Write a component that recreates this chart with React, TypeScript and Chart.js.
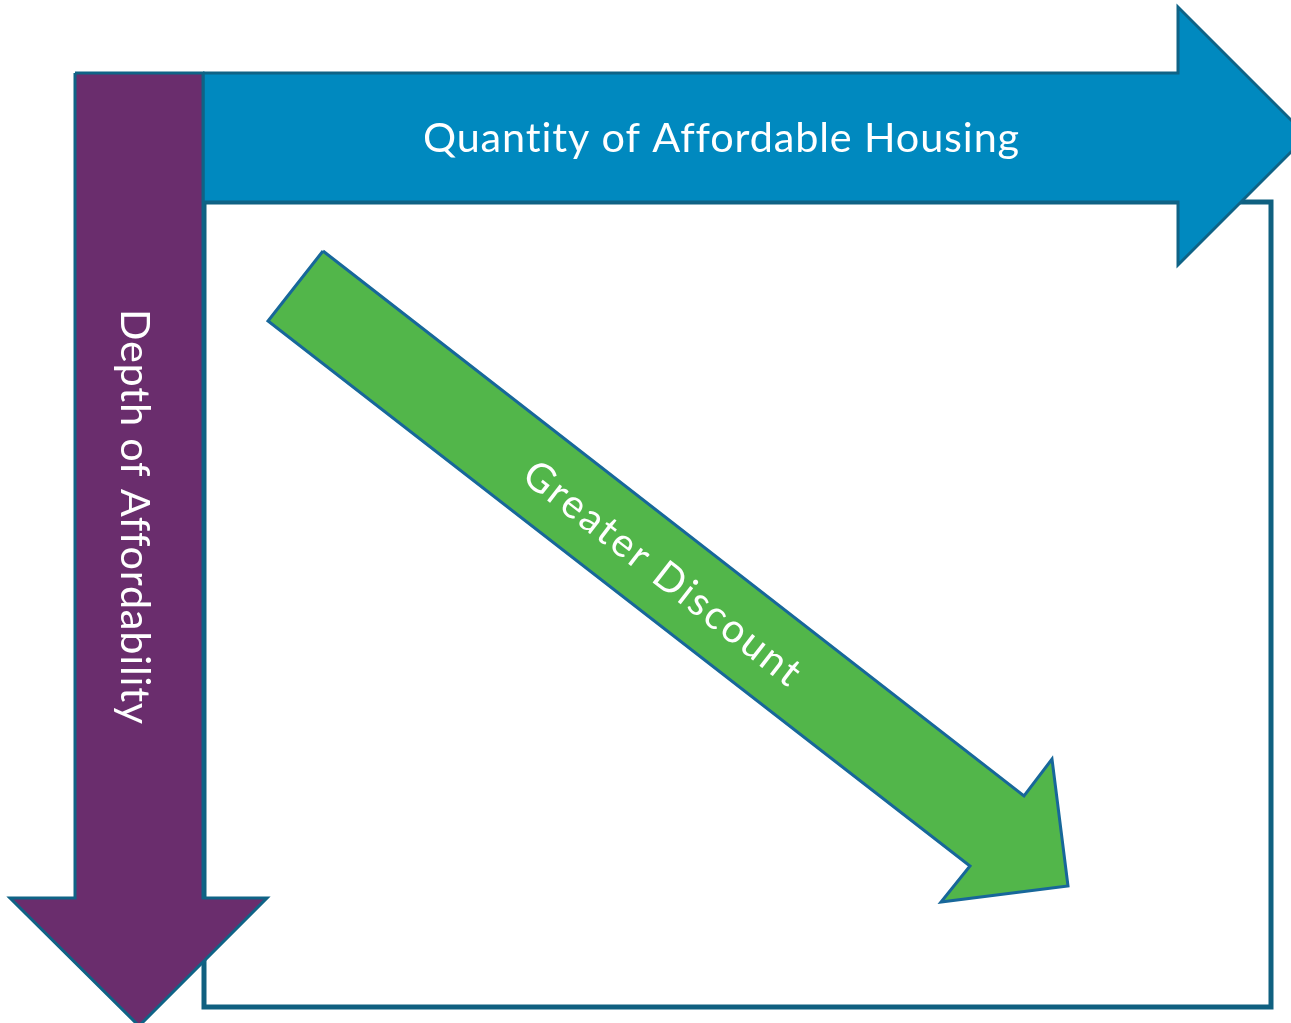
import React, { useEffect, useRef } from "react";
import { Chart, registerables } from "chart.js";

Chart.register(...registerables);

// Canvas / coordinate frame (data units = pixels of the reference)
const FRAME_W = 1291;
const FRAME_H = 1023;

// Shape outlines (data coordinates)
const boxX = [204, 1271, 1271, 204, 204];
const boxY = [202, 202, 1007, 1007, 202];

const blueArrowX = [203, 1178, 1178, 1307, 1178, 1178, 203, 203];
const blueArrowY = [73, 73, 7, 136, 265, 202, 202, 73];

const purpleArrowX = [75, 203, 203, 267, 139, 10, 75, 75];
const purpleArrowY = [73, 73, 898, 898, 1026, 898, 898, 73];

const greenArrowX = [323, 1024, 1052, 1068, 941, 970, 268, 323];
const greenArrowY = [251, 796, 759, 886, 902, 866, 321, 251];

// Labels
const labelTexts = ["Quantity of Affordable Housing", "Depth of Affordability", "Greater Discount"];
const labelCenterX = [721.5, 136, 664];
const labelCenterY = [137, 517, 573];
const labelAngles = [0, 90, 37.86];
const labelWidths = [597, 416, 342];
const labelCapHeights = [30, 30, 29];

const toPoints = (xs: number[], ys: number[]) => xs.map((x, i) => ({ x, y: ys[i] }));

const FONT_FAMILY = "Lato, 'Open Sans', sans-serif";

const labelPlugin = {
  id: "diagramLabels",
  afterDatasetsDraw(chart: any) {
    const ctx = chart.ctx as any;
    const xs = chart.scales.x;
    const ys = chart.scales.y;
    labelTexts.forEach((text, i) => {
      ctx.save();
      try {
        ctx.textRendering = "optimizeSpeed";
      } catch (e) {}
      const base = 40;
      ctx.font = `${base}px ${FONT_FAMILY}`;
      const capBase = ctx.measureText("H").actualBoundingBoxAscent || base * 0.72;
      const size = (base * labelCapHeights[i]) / capBase;
      ctx.font = `${size}px ${FONT_FAMILY}`;
      ctx.letterSpacing = "0px";
      const w = ctx.measureText(text).width;
      const spacing = (labelWidths[i] - w) / text.length;
      ctx.letterSpacing = `${Math.abs(spacing) < 0.02 ? 0.02 : spacing}px`;
      const px = xs.getPixelForValue(labelCenterX[i]);
      const py = ys.getPixelForValue(labelCenterY[i]);
      ctx.translate(px, py);
      ctx.rotate((labelAngles[i] * Math.PI) / 180);
      ctx.fillStyle = "#ffffff";
      ctx.textAlign = "left";
      ctx.textBaseline = "alphabetic";
      ctx.fillText(text, -labelWidths[i] / 2, labelCapHeights[i] / 2);
      ctx.restore();
    });
  },
};

export default function App() {
  const canvasRef = useRef<HTMLCanvasElement | null>(null);

  useEffect(() => {
    if (!canvasRef.current) return;
    const common = {
      showLine: true,
      pointRadius: 0,
      pointHoverRadius: 0,
      tension: 0,
      clip: false as any,
    };
    const chart = new Chart(canvasRef.current, {
      type: "line",
      data: {
        datasets: [
          {
            ...common,
            label: "Greater Discount",
            data: toPoints(greenArrowX, greenArrowY),
            fill: "shape" as any,
            backgroundColor: "#52B64A",
            borderColor: "#17679A",
            borderWidth: 3,
            order: 0,
          },
          {
            ...common,
            label: "Depth of Affordability",
            data: toPoints(purpleArrowX, purpleArrowY),
            fill: "shape" as any,
            backgroundColor: "#6A2D6D",
            borderColor: "#0F6386",
            borderWidth: 3,
            order: 1,
          },
          {
            ...common,
            label: "Quantity of Affordable Housing",
            data: toPoints(blueArrowX, blueArrowY),
            fill: "shape" as any,
            backgroundColor: "#0089BF",
            borderColor: "#0F6386",
            borderWidth: 3,
            order: 2,
          },
          {
            ...common,
            label: "Box",
            data: toPoints(boxX, boxY),
            fill: false,
            borderColor: "#0F6080",
            borderWidth: 5,
            order: 3,
          },
        ],
      },
      options: {
        responsive: false,
        animation: false,
        devicePixelRatio: 1,
        events: [],
        layout: { padding: 0 },
        plugins: {
          legend: { display: false },
          tooltip: { enabled: false },
        },
        elements: { line: { borderJoinStyle: "miter" } },
        scales: {
          x: { type: "linear", min: 0, max: FRAME_W, display: false },
          y: { type: "linear", min: 0, max: FRAME_H, reverse: true, display: false },
        },
      },
      plugins: [labelPlugin],
    });
    return () => chart.destroy();
  }, []);

  return (
    <div style={{ position: "absolute", left: 0, top: 0, width: FRAME_W, height: FRAME_H, background: "#ffffff" }}>
      <canvas ref={canvasRef} width={FRAME_W} height={FRAME_H} style={{ display: "block" }} />
    </div>
  );
}
